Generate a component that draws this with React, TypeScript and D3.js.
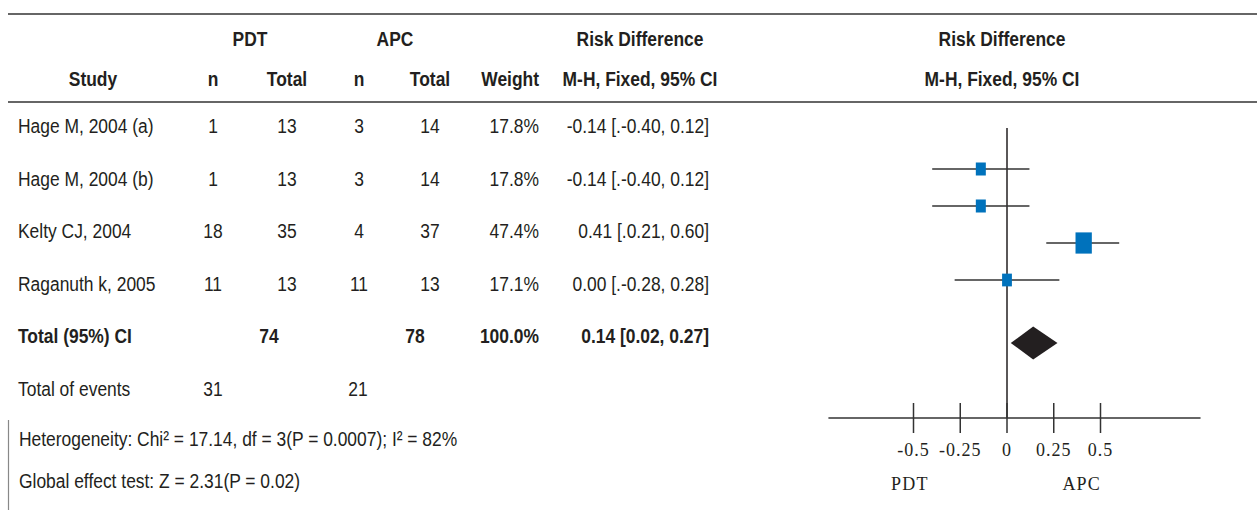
import React from 'react';
import * as d3 from 'd3';

// study rows
const studies = ['Hage M, 2004 (a)', 'Hage M, 2004 (b)', 'Kelty CJ, 2004', 'Raganuth k, 2005'];
const pdtEvents = [1, 1, 18, 11];
const pdtTotal = [13, 13, 35, 13];
const apcEvents = [3, 3, 4, 11];
const apcTotal = [14, 14, 37, 13];
const weights = [17.8, 17.8, 47.4, 17.1];
const riskDiff = [-0.14, -0.14, 0.41, 0.0];
const ciLow = [-0.4, -0.4, 0.21, -0.28];
const ciHigh = [0.12, 0.12, 0.6, 0.28];
const ciLabels = ['-0.14 [.-0.40, 0.12]', '-0.14 [.-0.40, 0.12]', '0.41 [.0.21, 0.60]', '0.00 [.-0.28, 0.28]'];

// pooled
const totalPdt = 74;
const totalApc = 78;
const totalWeight = '100.0%';
const pooled = { rd: 0.14, low: 0.02, high: 0.27, label: '0.14 [0.02, 0.27]' };
const eventsPdt = 31;
const eventsApc = 21;

const tickValues = [-0.5, -0.25, 0, 0.25, 0.5];
const tickLabels = ['-0.5', '-0.25', '0', '0.25', '0.5'];

const W = 1257;
const H = 520;
const sans = '"Liberation Sans", Arial, sans-serif';
const serif = '"Liberation Serif", "Times New Roman", serif';
const blue = '#0072bc';

// narrow-looking text (no Arial Narrow installed, so squeeze Liberation Sans)
const T = (props: { x: number; y: number; anchor?: string; bold?: boolean; children: React.ReactNode }) => (
  <text
    transform={`translate(${props.x},${props.y}) scale(0.83,1)`}
    textAnchor={props.anchor || 'start'}
    fontFamily={sans}
    fontSize={21}
    fontWeight={props.bold ? 700 : 400}
    fill="#231f20"
  >
    {props.children}
  </text>
);

export default function App() {
  // effect scale
  const x = d3.scaleLinear().domain([-1, 1]).range([820, 1194]);
  // plot rows (index 5 is the pooled diamond)
  const yPlot = d3.scaleLinear().domain([0, 3, 5]).range([169, 280, 343]);
  // table rows (baselines)
  const yRow = d3.scaleLinear().domain([0, 5]).range([133, 395.5]);
  const boxW = d3.scaleSqrt().domain([0, 17.8]).range([0, 10]);
  const boxH = d3.scaleSqrt().domain([0, 17.8]).range([0, 13]);

  const axisY = 418;
  const diamondH = 16.5;

  return (
    <svg width={W} height={H} style={{ position: 'absolute', left: 0, top: 0, background: '#fff' }}>
      {/* rules */}
      <line x1={8} x2={W} y1={14} y2={14} stroke="#333" strokeWidth={1.5} />
      <line x1={8} x2={W} y1={102} y2={102} stroke="#333" strokeWidth={1.5} />
      <line x1={8.5} x2={8.5} y1={420} y2={510} stroke="#888" strokeWidth={1.2} />

      {/* headers */}
      <T bold x={250} y={46} anchor="middle">PDT</T>
      <T bold x={395} y={46} anchor="middle">APC</T>
      <T bold x={640} y={46} anchor="middle">Risk Difference</T>
      <T bold x={1002} y={46} anchor="middle">Risk Difference</T>
      <T bold x={93} y={86} anchor="middle">Study</T>
      <T bold x={213} y={86} anchor="middle">n</T>
      <T bold x={287} y={86} anchor="middle">Total</T>
      <T bold x={359} y={86} anchor="middle">n</T>
      <T bold x={430} y={86} anchor="middle">Total</T>
      <T bold x={539} y={86} anchor="end">Weight</T>
      <T bold x={640} y={86} anchor="middle">M-H, Fixed, 95% CI</T>
      <T bold x={1002} y={86} anchor="middle">M-H, Fixed, 95% CI</T>

      {/* study rows */}
      {studies.map((s, i) => (
        <g key={s}>
          <T x={18} y={yRow(i)}>{s}</T>
          <T x={213} y={yRow(i)} anchor="middle">{pdtEvents[i]}</T>
          <T x={287} y={yRow(i)} anchor="middle">{pdtTotal[i]}</T>
          <T x={359} y={yRow(i)} anchor="middle">{apcEvents[i]}</T>
          <T x={430} y={yRow(i)} anchor="middle">{apcTotal[i]}</T>
          <T x={539} y={yRow(i)} anchor="end">{weights[i].toFixed(1)}%</T>
          <T x={709} y={yRow(i)} anchor="end">{ciLabels[i]}</T>
        </g>
      ))}

      {/* totals */}
      <T bold x={18} y={yRow(4)}>Total (95%) CI</T>
      <T bold x={269} y={yRow(4)} anchor="middle">{totalPdt}</T>
      <T bold x={415} y={yRow(4)} anchor="middle">{totalApc}</T>
      <T bold x={539} y={yRow(4)} anchor="end">{totalWeight}</T>
      <T bold x={709} y={yRow(4)} anchor="end">{pooled.label}</T>

      <T x={18} y={yRow(5)}>Total of events</T>
      <T x={213} y={yRow(5)} anchor="middle">{eventsPdt}</T>
      <T x={358} y={yRow(5)} anchor="middle">{eventsApc}</T>

      <T x={19} y={446}>Heterogeneity: Chi² = 17.14, df = 3(P = 0.0007); I² = 82%</T>
      <T x={19} y={488}>Global effect test: Z = 2.31(P = 0.02)</T>

      {/* forest plot */}
      <line x1={x(0)} x2={x(0)} y1={128} y2={axisY} stroke="#231f20" strokeWidth={1.5} />
      {studies.map((s, i) => (
        <g key={'m' + s}>
          <line x1={x(ciLow[i])} x2={x(ciHigh[i])} y1={yPlot(i)} y2={yPlot(i)} stroke="#333" strokeWidth={1.5} />
          <rect
            x={x(riskDiff[i]) - boxW(weights[i]) / 2}
            y={yPlot(i) - boxH(weights[i]) / 2}
            width={boxW(weights[i])}
            height={boxH(weights[i])}
            fill={blue}
          />
        </g>
      ))}
      <path
        d={`M${x(pooled.low)},${yPlot(5)}L${x(pooled.rd)},${yPlot(5) - diamondH}L${x(pooled.high)},${yPlot(5)}L${x(pooled.rd)},${yPlot(5) + diamondH}Z`}
        fill="#231f20"
      />

      {/* axis */}
      <line x1={x(-0.955)} x2={x(1.035)} y1={axisY} y2={axisY} stroke="#333" strokeWidth={1.5} />
      {tickValues.map((t, i) => (
        <g key={t}>
          <line x1={x(t)} x2={x(t)} y1={axisY - 15} y2={axisY + 15} stroke="#333" strokeWidth={1.5} />
          <text x={x(t)} y={456} textAnchor="middle" fontFamily={serif} fontSize={18} letterSpacing={1} fill="#231f20">
            {tickLabels[i]}
          </text>
        </g>
      ))}
      <text x={891} y={490} fontFamily={serif} fontSize={18} letterSpacing={1.2} fill="#231f20">PDT</text>
      <text x={1101} y={490} textAnchor="end" fontFamily={serif} fontSize={18} letterSpacing={1.2} fill="#231f20">APC</text>
    </svg>
  );
}
